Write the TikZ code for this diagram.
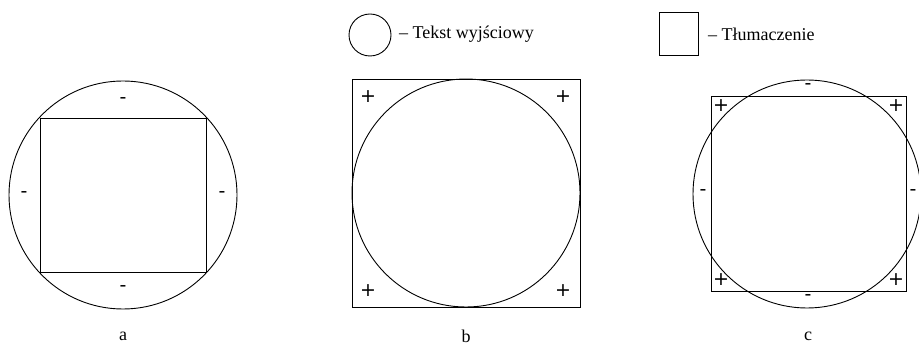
\documentclass[tikz,border=0pt]{standalone}
\usepackage{fontspec}
\setmainfont{Liberation Serif}
\newfontfamily\signfont{DejaVu Sans}
\begin{document}
\begin{tikzpicture}[x=1pt,y=-1pt,
  shp/.style={draw=black,line width=0.9pt,inner sep=0pt,outer sep=0pt},
  circ/.style={shp,circle,minimum size=228pt},
  sq/.style={shp,rectangle},
  sgn/.style={font=\signfont\fontsize{19}{21}\selectfont,inner sep=0pt},
  lbl/.style={font=\fontsize{18}{21}\selectfont,inner sep=0pt},
  leg/.style={font=\fontsize{18}{21}\selectfont,inner sep=0pt,anchor=west}]
\useasboundingbox (0,0) rectangle (919,347);
% legend
\node[shp,circle,minimum size=42pt] (lc) at (370,35) {};
\node[leg] (lct) at (399,34) {– Tekst wyjściowy};
\node[sq,minimum width=39pt,minimum height=43pt] (ls) at (678.5,33.5) {};
\node[leg] (lst) at (708,34) {– Tłumaczenie};
% a
\node[circ] (ca) at (123,195) {};
\node[sq,minimum width=166pt,minimum height=154pt] (sa) at (123,195) {};
\node[sgn] (ma1) at (123,101) {-};
\node[sgn] (ma2) at (123,289) {-};
\node[sgn] (ma3) at (24,195) {-};
\node[sgn] (ma4) at (222,195) {-};
\node[lbl] (la) at (123,336) {a};
% b
\node[sq,minimum width=228pt,minimum height=228pt] (sb) at (466,193) {};
\node[circ] (cb) at (466,193) {};
\node[sgn] (pb1) at (368,97) {+};
\node[sgn] (pb2) at (563,97) {+};
\node[sgn] (pb3) at (368,291) {+};
\node[sgn] (pb4) at (563,291) {+};
\node[lbl] (lb) at (466,336) {b};
% c
\node[sq,minimum width=195pt,minimum height=195pt] (sc) at (808.5,193.5) {};
\node[circ] (cc) at (807,194) {};
\node[sgn] (mc1) at (808,87) {-};
\node[sgn] (mc2) at (808,298) {-};
\node[sgn] (mc3) at (703,193) {-};
\node[sgn] (mc4) at (913,193) {-};
\node[sgn] (pc1) at (721,106) {+};
\node[sgn] (pc2) at (896,106) {+};
\node[sgn] (pc3) at (721,280) {+};
\node[sgn] (pc4) at (896,280) {+};
\node[lbl] (lc2) at (808,336) {c};
\end{tikzpicture}
\end{document}
